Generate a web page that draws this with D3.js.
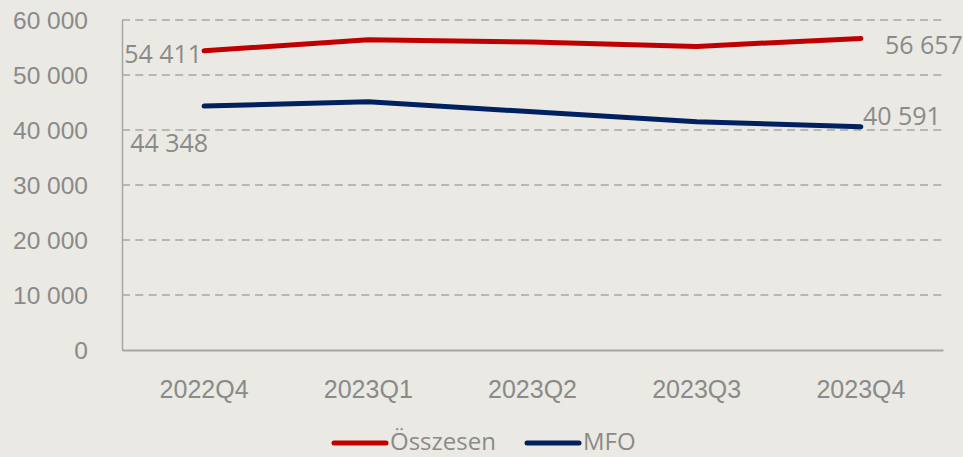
<!DOCTYPE html>
<html>
<head>
<meta charset="utf-8">
<script src="https://cdn.jsdelivr.net/npm/d3@7"></script>
<style>
  body { margin: 0; background: #ebe9e3; }
  svg { display: block; font-family: "Open Sans", "Noto Sans", sans-serif; }
</style>
</head>
<body>
<svg id="chart" width="963" height="457"></svg>
<script>
// quarters and series
var quarters = ["2022Q4", "2023Q1", "2023Q2", "2023Q3", "2023Q4"];
var osszesen = [54411, 56400, 56000, 55200, 56657];
var mfo = [44348, 45150, 43300, 41500, 40591];
var yTicks = [0, 10000, 20000, 30000, 40000, 50000, 60000];
var seriesNames = ["Összesen", "MFO"];
var seriesColors = ["#c00000", "#002060"];

var svg = d3.select("#chart");
var textColor = "#8a8a8a";

var x = d3.scaleBand().domain(quarters).range([122, 943]);
var y = d3.scaleLinear().domain([0, 60000]).range([350, 20]);

var fmt = function(v) { return d3.format(",")(v).replace(/,/g, " "); };

// gridlines
svg.append("g")
    .selectAll("line")
    .data(yTicks.filter(function(d){ return d > 0; }))
  .enter().append("line")
    .attr("x1", 122)
    .attr("x2", 943)
    .attr("y1", function(d){ return y(d); })
    .attr("y2", function(d){ return y(d); })
    .style("stroke", "#a6a6a6")
    .style("stroke-width", 1.5)
    .style("stroke-dasharray", "8,5.3");

// y axis
var yAxis = svg.append("g")
    .attr("transform", "translate(122,0)")
    .call(d3.axisLeft(y).tickValues(yTicks).tickFormat(fmt).tickSize(0));
yAxis.select(".domain").style("stroke", "#a6a6a6").style("stroke-width", 1.5);
yAxis.selectAll("text")
    .style("font-size", "24.5px")
    .style("fill", textColor)
    .attr("dy", "0.33em")
    .attr("x", -34);

// x axis
var xAxis = svg.append("g")
    .attr("transform", "translate(0,350)")
    .call(d3.axisBottom(x).tickSize(0).tickPadding(30));
xAxis.select(".domain").style("stroke", "#a6a6a6").style("stroke-width", 2);
xAxis.selectAll("text")
    .style("font-size", "25px")
    .style("fill", textColor);

// lines
var line = d3.line()
    .x(function(d, i){ return x(quarters[i]) + x.bandwidth() / 2; })
    .y(function(d){ return y(d); });

[osszesen, mfo].forEach(function(s, k) {
  svg.append("path")
      .datum(s)
      .attr("d", line)
      .style("fill", "none")
      .style("stroke", seriesColors[k])
      .style("stroke-width", 5)
      .style("stroke-linecap", "round")
      .style("stroke-linejoin", "round");
});

// data labels at first and last point
var cx = function(i){ return x(quarters[i]) + x.bandwidth() / 2; };
var labels = [
  { v: osszesen[0], x: cx(0) - 2, y: y(osszesen[0]) + 12, anchor: "end" },
  { v: osszesen[4], x: cx(4) + 24, y: y(osszesen[4]) + 16, anchor: "start" },
  { v: mfo[0], x: cx(0) + 4, y: y(mfo[0]) + 46, anchor: "end" },
  { v: mfo[4], x: cx(4) + 2, y: y(mfo[4]) - 2, anchor: "start" }
];
svg.append("g")
    .selectAll("text")
    .data(labels)
  .enter().append("text")
    .attr("x", function(d){ return d.x; })
    .attr("y", function(d){ return d.y; })
    .attr("text-anchor", function(d){ return d.anchor; })
    .style("font-size", "25px")
    .style("fill", textColor)
    .text(function(d){ return fmt(d.v); });

// legend
var legendX = [332, 525];
var legend = svg.append("g");
seriesNames.forEach(function(name, k) {
  legend.append("line")
      .attr("x1", legendX[k] + 2)
      .attr("x2", legendX[k] + 54)
      .attr("y1", 443)
      .attr("y2", 443)
      .style("stroke", seriesColors[k])
      .style("stroke-width", 5)
      .style("stroke-linecap", "round");
  legend.append("text")
      .attr("x", legendX[k] + 58)
      .attr("y", 450)
      .style("font-size", "24px")
      .style("fill", textColor)
      .text(name);
});
</script>
</body>
</html>
